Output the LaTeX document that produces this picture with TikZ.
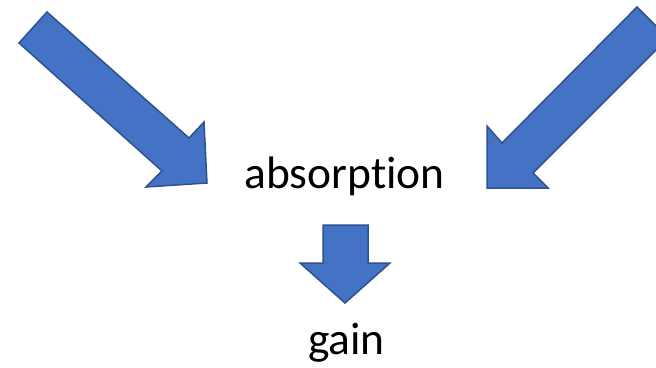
\documentclass[tikz,border=0pt]{standalone}
\usepackage{fontspec}
\setmainfont[Ligatures=NoCommon]{Carlito}
\definecolor{arrowfill}{HTML}{4472C4}
\definecolor{arrowline}{HTML}{2F528F}
\tikzset{
  blockarrow/.style={fill=arrowfill, draw=arrowline, line width=1.5pt, line join=miter},
  label/.style={font=\fontsize{45.5}{52}\selectfont, inner sep=0pt, anchor=base, text=black}
}
\begin{document}
\begin{tikzpicture}[x=1pt,y=-1pt]
\useasboundingbox (0,0) rectangle (656,367);
\clip (0,0) rectangle (656,367);
% left block arrow
\draw[blockarrow] (47,12) -- (189,138) -- (204,122) -- (207,183) -- (146,187) -- (162,171) -- (19,43) -- cycle;
% right block arrow
\draw[blockarrow] (637,7) -- (668,38) -- (533,173) -- (548,188) -- (487,188) -- (487,126) -- (502,143) -- cycle;
% down block arrow
\draw[blockarrow] (323,225) -- (368,225) -- (368,263) -- (390,263) -- (345,303) -- (300,263) -- (323,263) -- cycle;
\node[label] (absorption) at (344.5,188) {absorption};
\node[label] (gain) at (346.5,354) {gain};
\end{tikzpicture}
\end{document}
